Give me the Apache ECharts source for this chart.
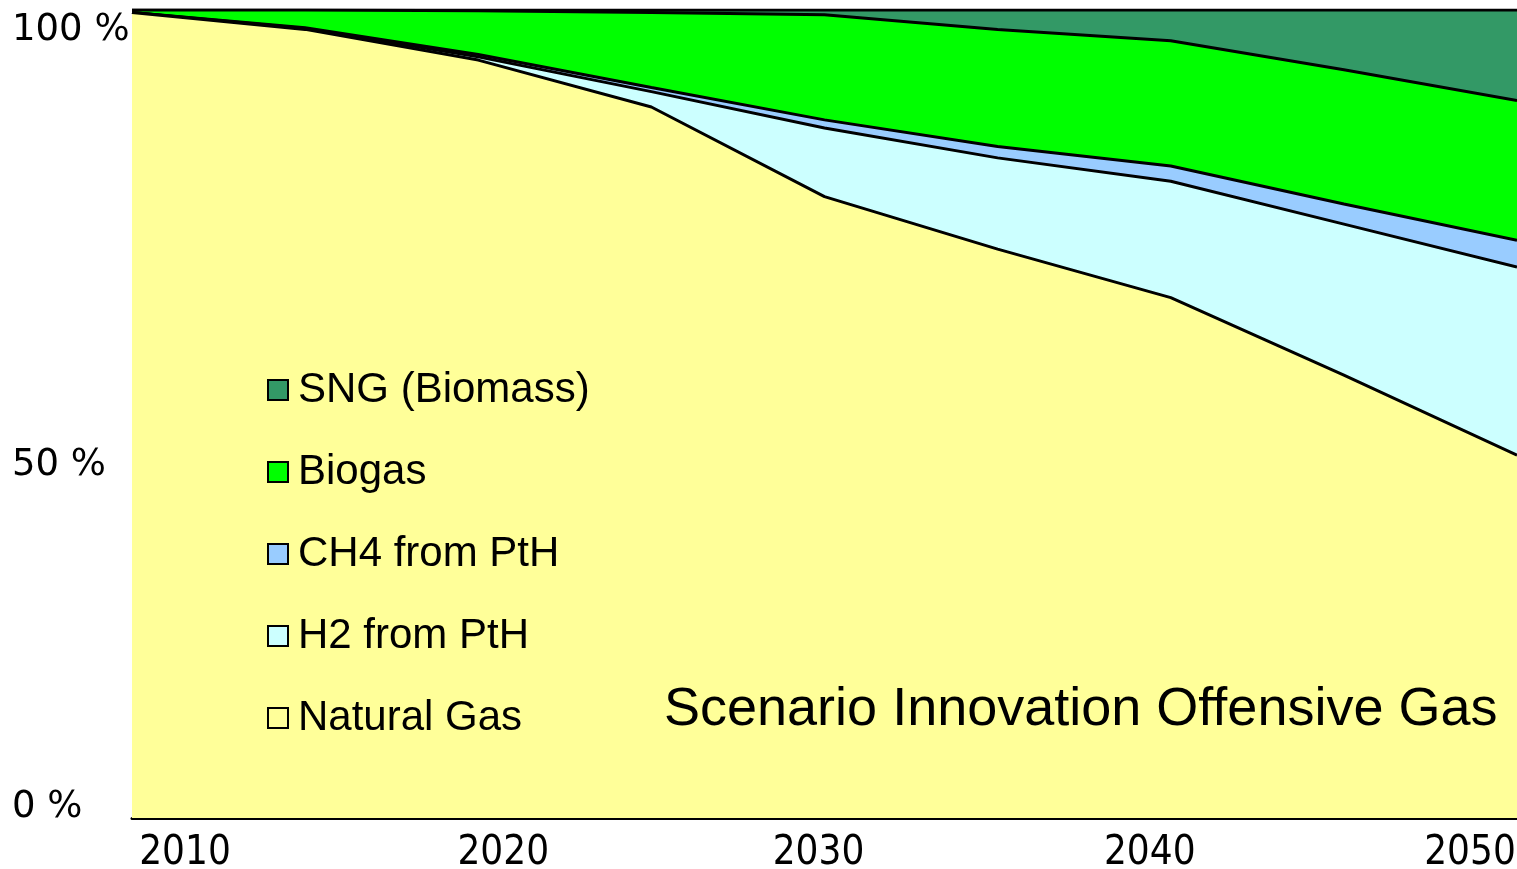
<!DOCTYPE html>
<html>
<head>
<meta charset="utf-8">
<title>Scenario Innovation Offensive Gas</title>
<script src="https://cdn.jsdelivr.net/npm/echarts@6/dist/echarts.min.js"></script>
<style>
  html, body { margin: 0; padding: 0; background: #ffffff; }
  #chart { width: 1517px; height: 869px; }
</style>
</head>
<body>
<div id="chart"></div>
<script>
// Gas supply mix, share of total (%), stacked from the bottom up
const years = ['2010', '2015', '2020', '2025', '2030', '2035', '2040', '2045', '2050'];
const naturalGas = [99.7, 97.6, 93.8, 88.0, 76.9, 70.4, 64.4, 54.8, 44.9];
const h2FromPtH  = [0.0, 0.1, 0.4, 1.9, 8.5, 11.3, 14.4, 18.7, 23.3];
const ch4FromPtH = [0.0, 0.1, 0.3, 0.5, 1.0, 1.4, 1.9, 2.5, 3.3];
const biogas     = [0.3, 2.2, 5.4, 9.3, 13.0, 14.5, 15.5, 16.6, 17.3];
const sngBiomass = [0.0, 0.0, 0.1, 0.3, 0.6, 2.4, 3.8, 7.4, 11.2];

const seriesNames = ['Natural Gas', 'H2 from PtH', 'CH4 from PtH', 'Biogas', 'SNG (Biomass)'];
const xTickLabels = ['2010', '2020', '2030', '2040', '2050'];
const yTickValues = [0, 50, 100];
const yTickLabels = ['0 %', '50 %', '100 %'];
const chartTitle = 'Scenario Innovation Offensive Gas';

// fill colours per layer
const colors = {
  'Natural Gas': '#FFFF99',
  'H2 from PtH': '#CCFFFF',
  'CH4 from PtH': '#99CCFF',
  'Biogas': '#00FF00',
  'SNG (Biomass)': '#339966'
};

// label nudges (px): x labels shift right (+) / left (-); y labels shift down (+) / up (-)
const xLabelShift = { 2010: 53, 2020: 25, 2030: -6, 2040: -21, 2050: -47 };
const yLabelShift = { 0: -11, 50: 51, 100: 20 };

const layers = [naturalGas, h2FromPtH, ch4FromPtH, biogas, sngBiomass];

function pad(shiftPx, horizontal) {
  const s = Math.abs(shiftPx) * 2;
  if (horizontal) return shiftPx >= 0 ? [0, 0, 0, s] : [0, s, 0, 0];
  return shiftPx >= 0 ? [s, 0, 0, 0] : [0, 0, s, 0];
}

const xRich = {};
xTickLabels.forEach(t => { xRich['x' + t] = { padding: pad(xLabelShift[t], true) }; });
const yRich = {};
yTickValues.forEach(v => { yRich['y' + v] = { padding: pad(yLabelShift[v], false) }; });

// lower layers sit above upper ones so every boundary line is drawn in full
const series = seriesNames.map((name, i) => ({
  name: name,
  type: 'line',
  stack: 'mix',
  z: 7 - i,
  symbol: 'none',
  smooth: false,
  lineStyle: { color: '#000000', width: 3 },
  itemStyle: { color: colors[name] },
  areaStyle: { color: colors[name], opacity: 1 },
  data: layers[i]
}));

const chart = echarts.init(document.getElementById('chart'), null, { renderer: 'canvas' });
chart.setOption({
  animation: false,
  backgroundColor: '#ffffff',
  grid: { left: 132, right: 0, top: 10, bottom: 51, containLabel: false, outerBoundsMode: 'none' },
  title: {
    text: chartTitle,
    left: 664,
    top: 683,
    padding: 0,
    z: 20,
    textStyle: { fontFamily: 'Liberation Sans, Arial, sans-serif', fontSize: 54, fontWeight: 'normal', color: '#000000' }
  },
  legend: {
    orient: 'vertical',
    left: 267,
    top: 369,
    padding: 0,
    z: 20,
    icon: 'rect',
    itemWidth: 20,
    itemHeight: 20,
    itemGap: 40,
    selectedMode: false,
    itemStyle: { borderColor: '#000000', borderWidth: 2 },
    textStyle: {
      fontFamily: 'Liberation Sans, Arial, sans-serif',
      fontSize: 42,
      lineHeight: 42,
      color: '#000000',
      padding: [0, 0, 0, 5]
    },
    data: seriesNames.slice().reverse().map(n => ({
      name: n,
      itemStyle: { color: colors[n], borderColor: '#000000', borderWidth: 2 }
    }))
  },
  xAxis: {
    type: 'category',
    data: years,
    boundaryGap: false,
    splitLine: { show: false },
    axisTick: { show: false },
    axisLine: { show: true, onZero: false, lineStyle: { color: '#000000', width: 3 } },
    axisLabel: {
      interval: 1,
      margin: 16,
      fontFamily: 'DejaVu Sans Condensed, DejaVu Sans, sans-serif',
      fontSize: 40,
      color: '#000000',
      formatter: v => (xTickLabels.indexOf(v) >= 0 ? '{x' + v + '|' + v + '}' : ''),
      rich: xRich
    }
  },
  yAxis: {
    type: 'value',
    min: 0,
    max: 100,
    interval: 50,
    splitLine: { show: false },
    axisTick: { show: false },
    axisLine: { show: false },
    axisLabel: {
      align: 'left',
      margin: 120,
      fontFamily: 'DejaVu Sans, Verdana, sans-serif',
      fontSize: 37,
      color: '#000000',
      showMinLabel: true,
      showMaxLabel: true,
      formatter: v => '{y' + v + '|' + yTickLabels[yTickValues.indexOf(v)] + '}',
      rich: yRich
    }
  },
  series: series
});
</script>
</body>
</html>
